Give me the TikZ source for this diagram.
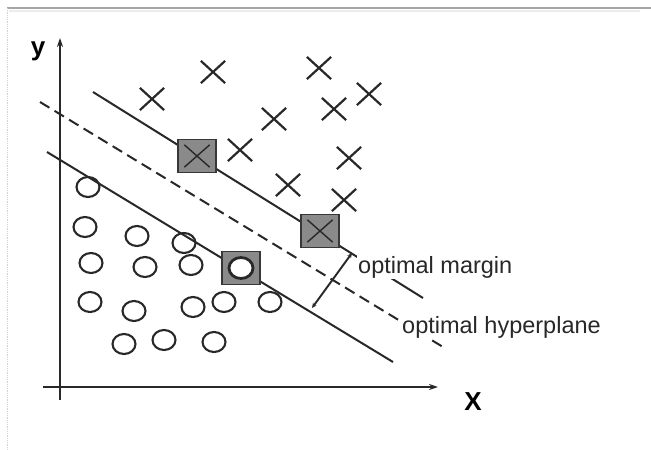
\documentclass[tikz,border=0pt]{standalone}
\usepackage{fontspec}
\setmainfont{Liberation Sans}
\usetikzlibrary{shapes.misc,shapes.geometric,arrows.meta}
\definecolor{ink}{RGB}{40,40,40}
\definecolor{boxfill}{RGB}{138,138,138}
\definecolor{boxline}{RGB}{55,55,55}
\tikzset{
  xmark/.style={cross out, draw=ink, line width=2.2pt, minimum width=22pt, minimum height=20pt, inner sep=0pt},
  xmarkthin/.style={cross out, draw=ink, line width=1.4pt, minimum width=24pt, minimum height=21pt, inner sep=0pt},
  omark/.style={ellipse, draw=ink, line width=2.1pt, minimum width=23pt, minimum height=20pt, inner sep=0pt},
  omarkin/.style={ellipse, draw=ink, fill=white, line width=2.8pt, minimum width=24pt, minimum height=21pt, inner sep=0pt},
  svbox/.style={rectangle, draw=boxline, fill=boxfill, line width=1.8pt, minimum width=38pt, minimum height=33pt, inner sep=0pt},
  sepline/.style={draw=ink, line width=2pt},
  axisline/.style={draw=ink, line width=2pt, -{Stealth[length=9pt,width=6pt]}},
  lbl/.style={font=\fontsize{23.5}{26}\selectfont, text=ink, fill=white, inner sep=1pt},
  axlbl/.style={font=\fontsize{26}{28}\selectfont\bfseries, text=black, inner sep=0pt}
}
\begin{document}
\begin{tikzpicture}[x=1pt,y=-1pt]
\useasboundingbox (0,0) rectangle (651,450);
% frame
\draw[gray!70, line width=1.3pt] (7,8) -- (651,8);
\draw[gray!15, line width=2pt] (9,11) -- (640,11);
\draw[gray!35, line width=0.8pt, densely dotted] (7,8) -- (7,450);
% axes
\coordinate (yb) at (60,400);
\coordinate (yt) at (60,38);
\coordinate (xl) at (43,387);
\coordinate (xr) at (438,387);
\draw[axisline] (yb) -- (yt);
\draw[axisline] (xl) -- (xr);
\node[axlbl] (ylab) at (38,51) {y};
\node[axlbl] (xlab) at (473,402) {X};
% separating lines
\coordinate (u1) at (93,92);
\coordinate (u2) at (423,298);
\coordinate (h1) at (40,102);
\coordinate (h2) at (443,347);
\coordinate (l1) at (47,152);
\coordinate (l2) at (393,362);
\draw[sepline] (u1) -- (u2);
\draw[sepline, dash pattern=on 11pt off 6pt] (h1) -- (h2);
\draw[sepline] (l1) -- (l2);
% labels (cover the lines)
\node[lbl, anchor=base west] (mlab) at (357,273) {optimal margin};
\node[lbl, anchor=base west] (hlab) at (401,333) {optimal hyperplane};
% margin arrow
\coordinate (ma) at (352,253);
\coordinate (mb) at (312,308);
\draw[draw=ink, line width=1.9pt, {Stealth[length=5pt,width=4.5pt]}-{Stealth[length=5pt,width=4.5pt]}] (ma) -- (mb);
% crosses
\node[xmark] (c1) at (152,99) {};
\node[xmark] (c2) at (213,72) {};
\node[xmark] (c3) at (319,68) {};
\node[xmark] (c4) at (369,94) {};
\node[xmark] (c5) at (334,109) {};
\node[xmark] (c6) at (274,119) {};
\node[xmark] (c7) at (240,150) {};
\node[xmark] (c8) at (349,158) {};
\node[xmark] (c9) at (288,185) {};
\node[xmark] (c10) at (344,200) {};
% circles
\node[omark] (o1) at (88,187) {};
\node[omark] (o2) at (85,227) {};
\node[omark] (o3) at (137,236) {};
\node[omark] (o4) at (184,243) {};
\node[omark] (o5) at (91,263) {};
\node[omark] (o6) at (145,267) {};
\node[omark] (o7) at (191,265) {};
\node[omark] (o8) at (90,302) {};
\node[omark] (o9) at (134,311) {};
\node[omark] (o10) at (193,307) {};
\node[omark] (o11) at (224,302) {};
\node[omark] (o12) at (270,302) {};
\node[omark] (o13) at (124,344) {};
\node[omark] (o14) at (164,340) {};
\node[omark] (o15) at (214,342) {};
% support vectors
\node[svbox] (s1) at (197,156) {};
\node[xmarkthin] (s1x) at (s1) {};
\node[svbox] (s2) at (320,231) {};
\node[xmarkthin] (s2x) at (s2) {};
\node[svbox] (s3) at (241,268) {};
\node[omarkin] (s3o) at (s3) {};
\end{tikzpicture}
\end{document}
